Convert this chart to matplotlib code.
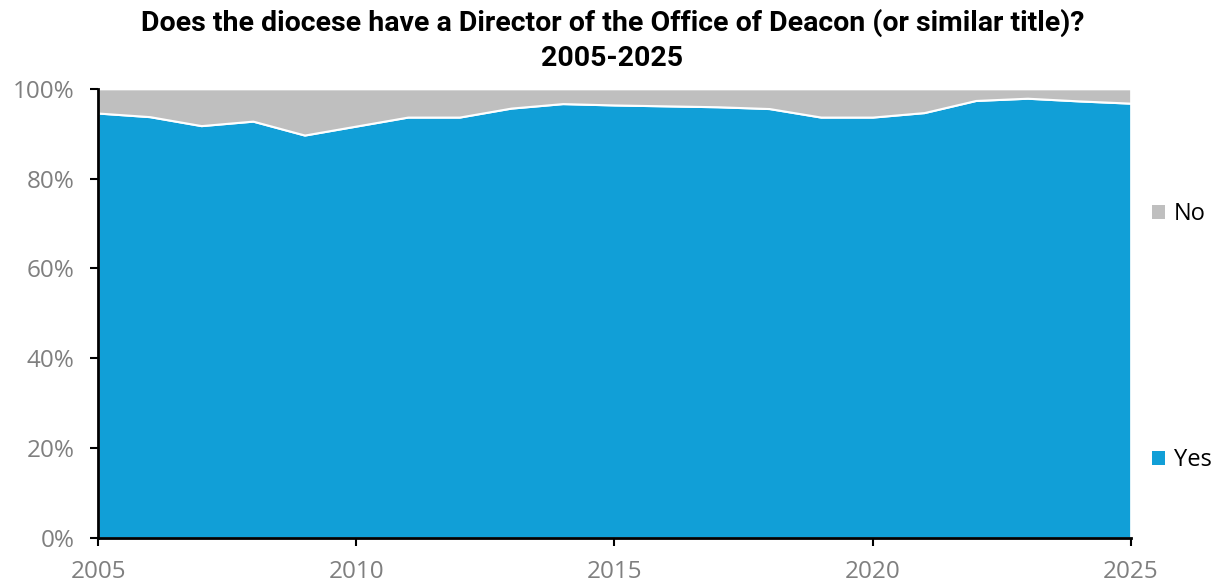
import numpy as np
import matplotlib.pyplot as plt
from matplotlib.patches import Patch
from matplotlib.ticker import PercentFormatter

# Share of dioceses with a Director of the Office of Deacon, by survey year
years = np.arange(2005, 2026)
yes_pct = [94.6, 93.8, 91.8, 92.8, 89.7, 91.7, 93.7, 93.7, 95.7, 96.7, 96.4,
           96.2, 96.0, 95.6, 93.7, 93.7, 94.7, 97.4, 97.9, 97.3, 96.8]
no_pct = [100 - v for v in yes_pct]

blue = '#119FD7'
grey = '#BFBFBF'
tick_grey = '#7F7F7F'

plt.rcParams['font.family'] = ['Open Sans', 'DejaVu Sans']

fig = plt.figure(figsize=(12.25, 5.88), dpi=100)
ax = fig.add_axes([0.080, 0.085, 0.843, 0.764])

ax.stackplot(years, yes_pct, no_pct, colors=[blue, grey],
             edgecolor='white', linewidth=1.5)

ax.set_xlim(2005, 2025)
ax.set_ylim(0, 100)
ax.set_xticks([2005, 2010, 2015, 2020, 2025])
ax.set_yticks(np.arange(0, 101, 20))
ax.yaxis.set_major_formatter(PercentFormatter(decimals=0))

for side in ['top', 'right']:
    ax.spines[side].set_visible(False)
for side in ['left', 'bottom']:
    ax.spines[side].set_linewidth(2)
    ax.spines[side].set_color('black')
    ax.spines[side].set_zorder(5)

ax.tick_params(axis='both', direction='out', length=6, width=1.5,
               colors='black', labelcolor=tick_grey, labelsize=17.5)
ax.tick_params(axis='y', pad=11)
ax.tick_params(axis='x', pad=10)

fig.text(0.5, 0.985,
         'Does the diocese have a Director of the Office of Deacon (or similar title)?\n2005-2025',
         ha='center', va='top', fontsize=20.5, fontweight='bold',
         family=['Roboto', 'DejaVu Sans'], linespacing=1.38)

handles = [Patch(facecolor=grey, edgecolor='none', label='No'),
           Patch(facecolor=blue, edgecolor='none', label='Yes')]
fig.legend(handles=handles, loc='upper left', bbox_to_anchor=(0.933, 0.672),
           frameon=False, fontsize=17, handlelength=0.55, handleheight=0.55,
           handletextpad=0.35, labelspacing=9.4, borderaxespad=0)

fig.savefig('out.png', dpi=100)
